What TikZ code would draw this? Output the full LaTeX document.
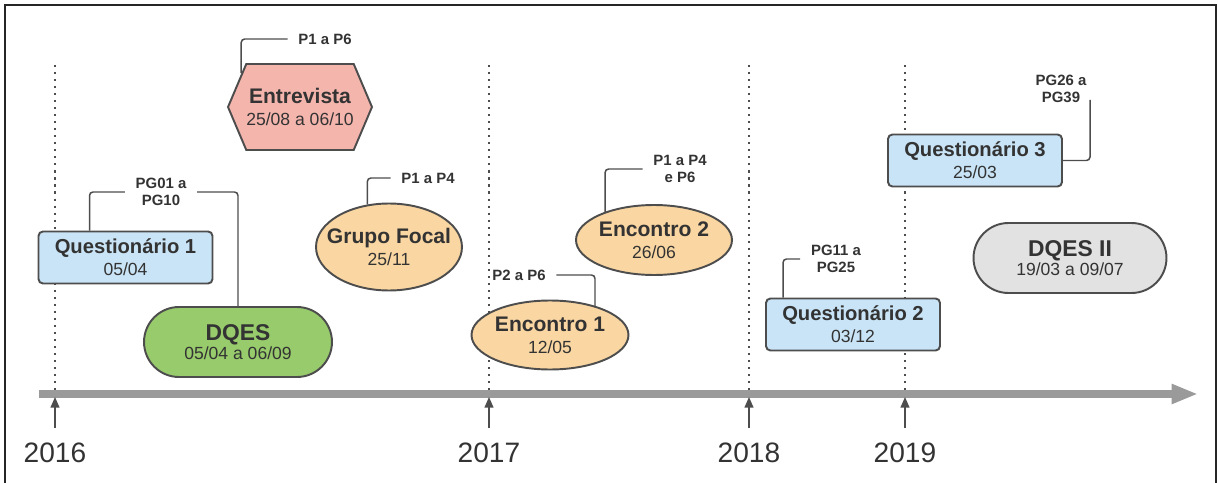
\documentclass[tikz,border=0pt]{standalone}
\usepackage{fontspec}
\setmainfont{Liberation Sans}
\usetikzlibrary{arrows.meta,shapes.geometric,shapes.misc,shapes.symbols}
\definecolor{edge}{HTML}{4D4D4D}
\definecolor{ink}{HTML}{333333}
\definecolor{qblue}{HTML}{C9E4F6}
\definecolor{mango}{HTML}{FAD7A2}
\definecolor{leaf}{HTML}{97CB6C}
\definecolor{rose}{HTML}{F4B5AD}
\definecolor{mist}{HTML}{E2E2E2}
\definecolor{railgray}{HTML}{9A9A9A}
\newcommand{\ttl}[2][12]{{\fontsize{#1}{#1}\selectfont\bfseries #2}}
\begin{document}
\begin{tikzpicture}[x=0.02cm, y=-0.02cm,
    box/.style={draw=edge, line width=1.1pt, text=ink, align=center, inner sep=0pt, font=\fontsize{10}{12.5}\selectfont},
    quest/.style={box, fill=qblue, rectangle, rounded corners=2.5pt, minimum width=3.48cm, minimum height=1.04cm},
    meet/.style={box, fill=mango, ellipse},
    pill/.style={box, rounded rectangle, minimum height=1.4cm},
    tag/.style={text=ink, align=center, inner xsep=6pt, inner ysep=1pt, font=\fontsize{8.5}{10}\selectfont\bfseries},
    link/.style={draw=edge, line width=0.85pt, rounded corners=2pt},
    dotline/.style={draw=edge, line width=0.7pt, dash pattern=on 1.2pt off 2.8pt},
    rail/.style={draw=railgray, line width=4.5pt, -{Triangle[length=15pt,width=10.5pt]}},
    tick/.style={draw=edge, line width=0.85pt, -{Triangle[length=6pt,width=5pt]}, shorten <=8pt, shorten >=1.7pt},
    year/.style={text=ink, font=\fontsize{16}{18}\selectfont, inner sep=0pt, anchor=base}]
    \useasboundingbox (0,0) rectangle (1218,483);
    \draw[line width=1.1pt, black!85] (5,483) -- (5,5) -- (1216,5) -- (1216,483);

    % years and axis
    \node[year] (y0) at (55,462) {2016};
    \node[year] (y1) at (489,462) {2017};
    \node[year] (y2) at (749,462) {2018};
    \node[year] (y3) at (905,462) {2019};
    \coordinate (top) at (0,65);
    \coordinate (a0) at (39,394);
    \coordinate (a1) at (1198,394);
    \foreach \y in {y0,y1,y2,y3} {
        \draw[dotline] (\y |- top) -- (\y |- a0);
    }
    \draw[rail] (a0) -- (a1);
    \foreach \y in {y0,y1,y2,y3} {
        \draw[tick] (\y.north) -- (\y |- a0);
    }

    % events
    \node[quest] (q1) at (125.5,257.5) {\ttl[11.5]{Questionário 1}\\05/04};
    \node[pill, fill=leaf, minimum width=3.76cm] (dqes) at (238,342) {\ttl[13]{DQES}\\[-2pt]05/04 a 06/09};
    \node[box, fill=rose, signal, signal to=west and east, signal pointer angle=134,
        minimum width=2.72cm, minimum height=1.72cm] (ent) at (300,107) {\ttl{Entrevista}\\25/08 a 06/10};
    \node[meet, inner xsep=-6pt, minimum width=2.92cm, minimum height=1.74cm] (gf) at (389,247) {\ttl{Grupo Focal}\\25/11};
    \node[meet, minimum width=3.14cm, minimum height=1.38cm] (e1) at (550,335) {\ttl{Encontro 1}\\12/05};
    \node[meet, minimum width=3.12cm, minimum height=1.4cm] (e2) at (654,240) {\ttl{Encontro 2}\\26/06};
    \node[quest] (q2) at (853,324.5) {\ttl[11.5]{Questionário 2}\\03/12};
    \node[quest] (q3) at (975,160.5) {\ttl[11.5]{Questionário 3}\\25/03};
    \node[pill, fill=mist, minimum width=3.86cm] (dqes2) at (1070,258) {\ttl[13]{DQES II}\\[-2pt]19/03 a 09/07};

    % participants
    \node[tag] (l1) at (325,39) {P1 a P6};
    \node[tag] (l2) at (161,192) {PG01 a\\PG10};
    \node[tag] (l3) at (428,178) {P1 a P4};
    \node[tag] (l4) at (519,275) {P2 a P6};
    \node[tag] (l5) at (680,169) {P1 a P4\\e P6};
    \node[tag] (l6) at (836,259) {PG11 a\\PG25};
    \node[tag] (l7) at (1061,89) {PG26 a\\PG39};
    \coordinate (c7) at (1090,100);
    \draw[link] (ent.150) |- (l1.west);
    \draw[link] ([xshift=-0.72cm]q1.north) |- (l2.west);
    \draw[link] (l2.east) -| (dqes.north);
    \draw[link] (gf.117) |- (l3.west);
    \draw[link] (l4.east) -| (e1.33);
    \draw[link] (e2.150) |- (l5.west);
    \draw[link] ([xshift=0.36cm]q2.north west) |- (l6.west);
    \draw[link] (q3.east) -| (c7);
\end{tikzpicture}
\end{document}
